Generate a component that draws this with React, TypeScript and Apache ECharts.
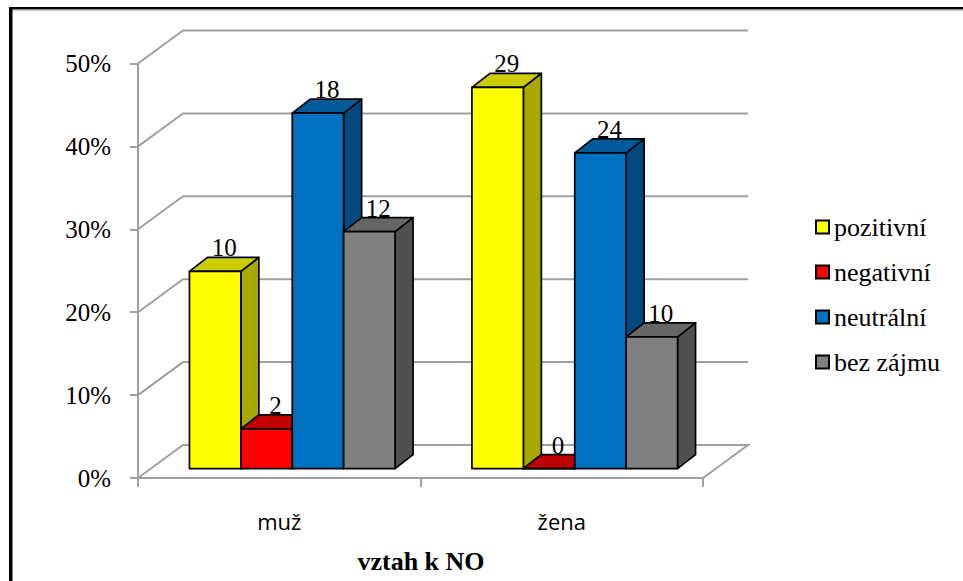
import React, { useEffect, useRef } from "react";
import * as echarts from "echarts";

const categories = ["muž", "žena"];
const seriesNames = ["pozitivní", "negativní", "neutrální", "bez zájmu"];
// bar heights in percent
const pozitivni = [23.8, 46.0];
const negativni = [4.8, 0];
const neutralni = [42.9, 38.1];
const bezZajmu = [28.6, 15.9];
// counts printed above the bars
const pozitivniCounts = [10, 29];
const negativniCounts = [2, 0];
const neutralniCounts = [18, 24];
const bezZajmuCounts = [12, 10];
const yTicks = [0, 10, 20, 30, 40, 50];
const axisTitle = "vztah k NO";

const FRONT = ["#ffff00", "#ff0000", "#0070c0", "#808080"];
const TOP = ["#cccc00", "#c00000", "#005a9a", "#666666"];
const SIDE = ["#a8a800", "#a00000", "#004a80", "#505050"];
const GRAY = "#a0a0a0";
const SERIF = '"Liberation Serif", serif';

const WALL_DX = 45;
const WALL_DY = -33;
const BAR_DX = 13;
const BAR_DY = -9.3;
const DEPTH_X = 18;
const DEPTH_Y = -14;
const BAR_W = 51.4;

function barSeries(idx: number, values: number[], counts: number[]) {
  return {
    type: "custom",
    name: seriesNames[idx],
    itemStyle: { color: FRONT[idx], borderColor: "#000", borderWidth: 2 },
    z: 3 + idx,
    encode: { x: 0, y: 1 },
    data: values.map((v, i) => [i, v, counts[i]]),
    renderItem: (_p: any, api: any) => {
      const base = api.coord([api.value(0), 0]);
      const top = api.coord([api.value(0), api.value(1)]);
      const x0 = base[0] + BAR_DX + (idx - 2) * BAR_W;
      const x1 = x0 + BAR_W;
      const yb = base[1] + BAR_DY;
      const yt = top[1] + BAR_DY;
      const line = { stroke: "#000", lineWidth: 1.7, lineJoin: "round" };
      const children: any[] = [
        {
          type: "polygon",
          shape: { points: [[x1, yt], [x1 + DEPTH_X, yt + DEPTH_Y], [x1 + DEPTH_X, yb + DEPTH_Y], [x1, yb]] },
          style: { fill: SIDE[idx], ...line },
        },
        {
          type: "polygon",
          shape: { points: [[x0, yt], [x0 + DEPTH_X, yt + DEPTH_Y], [x1 + DEPTH_X, yt + DEPTH_Y], [x1, yt]] },
          style: { fill: TOP[idx], ...line },
        },
        {
          type: "polygon",
          shape: { points: [[x0, yt], [x1, yt], [x1, yb], [x0, yb]] },
          style: { fill: FRONT[idx], ...line },
        },
        {
          type: "text",
          style: {
            text: String(api.value(2)),
            x: x0 + BAR_W / 2 + 9,
            y: yt - 11,
            textAlign: "center",
            textVerticalAlign: "bottom",
            font: `25px ${SERIF}`,
            fill: "#000",
          },
        },
      ];
      return { type: "group", children };
    },
  };
}

export default function App() {
  const ref = useRef<HTMLDivElement>(null);
  useEffect(() => {
    const chart = echarts.init(ref.current!, undefined, { renderer: "svg" });
    chart.setOption({
      animation: false,
      backgroundColor: "#fff",
      grid: { left: 138, right: 260, top: 63.5, bottom: 103 },
      xAxis: {
        type: "category",
        data: categories,
        axisLine: { lineStyle: { color: GRAY, width: 2 } },
        axisTick: { show: true, alignWithLabel: false, length: 9, lineStyle: { color: GRAY, width: 2 } },
        axisLabel: { color: "#000", fontFamily: '"Open Sans", sans-serif', fontSize: 22, margin: 32 },
      },
      yAxis: {
        type: "value",
        min: 0,
        max: 50,
        interval: 10,
        splitLine: { show: false },
        axisLine: { show: true, lineStyle: { color: GRAY, width: 2 } },
        axisTick: { show: true, length: 8, lineStyle: { color: GRAY, width: 2 } },
        axisLabel: {
          formatter: "{value}%",
          color: "#000",
          fontFamily: SERIF,
          fontSize: 25,
          margin: 27,
          padding: [5, 0, 0, 0],
        },
      },
      legend: {
        orient: "vertical",
        left: 810,
        top: 207,
        data: seriesNames,
        icon: "rect",
        itemWidth: 13,
        itemHeight: 13,
        itemGap: 15,
        itemStyle: { borderColor: "#000", borderWidth: 2 },
        textStyle: { color: "#000", fontFamily: SERIF, fontSize: 26, lineHeight: 30, padding: [0, 0, 0, 0] },
        selectedMode: false,
      },
      graphic: [
        { type: "rect", shape: { x: 9, y: 7, width: 954, height: 2.5 }, style: { fill: "#000" } },
        { type: "rect", shape: { x: 12, y: 9.5, width: 951, height: 1 }, style: { fill: "#9a9a9a" } },
        { type: "rect", shape: { x: 9, y: 7, width: 3.5, height: 574 }, style: { fill: "#000" } },
        {
          type: "text",
          x: 421,
          y: 561,
          style: {
            text: axisTitle,
            font: `bold 26px ${SERIF}`,
            fill: "#000",
            textAlign: "center",
            textVerticalAlign: "middle",
          },
        },
      ],
      series: [
        {
          type: "custom",
          name: "wall",
          z: 1,
          encode: { x: 0, y: 1 },
          data: yTicks.map((t) => [0, t]),
          renderItem: (p: any, api: any) => {
            const y = api.coord([0, api.value(1)])[1];
            const cs = p.coordSys;
            const left = cs.x;
            const right = cs.x + cs.width;
            return {
              type: "polyline",
              shape: {
                points: [
                  [left, y],
                  [left + WALL_DX, y + WALL_DY],
                  [right + WALL_DX, y + WALL_DY],
                  ...(api.value(1) === 0 ? [[right, y]] : []),
                ],
              },
              style: { stroke: GRAY, lineWidth: 2, fill: "none" },
            };
          },
        },
        barSeries(0, pozitivni, pozitivniCounts),
        barSeries(1, negativni, negativniCounts),
        barSeries(2, neutralni, neutralniCounts),
        barSeries(3, bezZajmu, bezZajmuCounts),
      ],
    });
    return () => chart.dispose();
  }, []);
  return <div ref={ref} style={{ position: "absolute", left: 0, top: 0, width: 963, height: 581 }} />;
}
